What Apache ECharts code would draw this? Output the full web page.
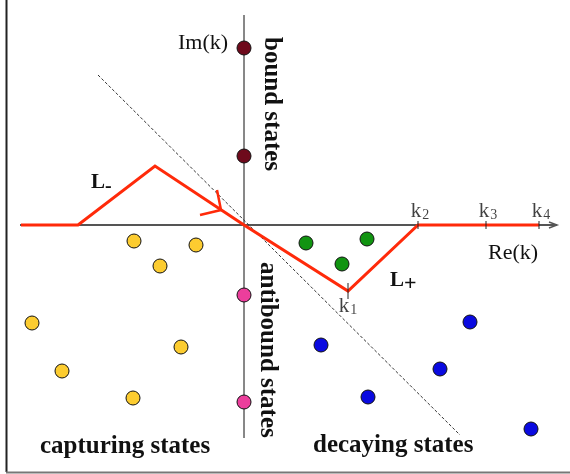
<!DOCTYPE html>
<html>
<head>
<meta charset="utf-8">
<script src="https://cdn.jsdelivr.net/npm/echarts@6/dist/echarts.min.js"></script>
<style>html,body{margin:0;padding:0;background:#fff}#c{width:570px;height:474px}</style>
</head>
<body>
<div id="c"></div>
<script>
// complex k-plane, units: Re(k), Im(k)
var boundStates = [[0, 17.7], [0, 6.9]];
var antiboundStates = [[0, -7.0], [0, -17.7]];
var capturingStates = [[-11.0, -1.6], [-4.8, -2.0], [-8.4, -4.1], [-21.2, -9.8], [-6.3, -12.2], [-18.2, -14.6], [-11.1, -17.3]];
var resonances = [[6.2, -1.8], [9.8, -3.9], [12.3, -1.4]];
var decayingStates = [[22.6, -9.7], [7.7, -12.0], [19.6, -14.4], [12.4, -17.2], [28.7, -20.4]];
var contourL = [[-22.3, 0], [-16.6, 0], [-8.9, 5.9], [0, 0], [10.4, -6.6], [17.4, 0], [29.5, 0]];
var arrowHead = [[-2.7, 3.5], [-2.3, 1.5], [-4.4, 1.0]];
var diagonal = [[-14.6, 15.0], [21.6, -21.0]];
var reAxis = [[-22.4, 0], [31.3, 0]];
var reAxisArrow = [[30.5, 0.3], [31.3, 0], [30.5, -0.3]];
var imAxis = [[0, 21.0], [0, -21.3]];
var kTickRe = [10.4, 17.4, 24.2, 29.5];
var kTickNames = ['1', '2', '3', '4'];
var xRange = [-24.4, 32.6];
var yRange = [-24.9, 22.5];

var chart = echarts.init(document.getElementById('c'), null, {renderer: 'canvas'});
var serif = '"Liberation Serif", "DejaVu Serif", serif';

function dot(name, data, color) {
  return {
    type: 'scatter', name: name, data: data, symbolSize: 14, z: 10,
    itemStyle: {color: color, borderColor: '#111', borderWidth: 1, opacity: 1}
  };
}
function segs(data, color, width, type, z) {
  return {
    type: 'line', data: data, symbol: 'none', silent: true, z: z || 3,
    lineStyle: {color: color, width: width, type: type || 'solid', cap: 'butt', join: 'miter'},
    animation: false
  };
}
function imOnContour(re) {
  var p = contourL.filter(function (q) { return Math.abs(q[0] - re) < 0.01; })[0];
  return p ? p[1] : 0;
}

var series = [];
series.push(segs(reAxis, '#555', 2, 'solid', 2));
series.push(segs(reAxisArrow, '#555', 1.5, 'solid', 2));
series.push(segs(imAxis, '#111', 1, 'solid', 2));
series.push(segs(diagonal, '#333', 1, [3, 2], 4));
series.push(segs(contourL, '#ff2a0a', 3, 'solid', 5));
series.push(segs(arrowHead, '#ff2a0a', 2.5, 'solid', 5));
kTickRe.forEach(function (re, i) {
  var im = imOnContour(re);
  var h = i === 0 ? 0.8 : 0.4;
  series.push(segs([[re, im + h], [re, im - h]], '#222', 1, 'solid', 6));
});
series.push({
  type: 'scatter', symbolSize: 0, silent: true, z: 12,
  data: kTickRe.map(function (re, i) {
    return {value: [re, imOnContour(re)], name: kTickNames[i],
      label: {position: i === 0 ? 'bottom' : 'top', distance: i === 0 ? 6 : 3, offset: i === 0 ? [0, 0] : [2, 0]}};
  }),
  label: {
    show: true, color: '#111', fontFamily: serif,
    formatter: function (p) { return '{k|k}{s|' + p.name + '}'; },
    rich: {
      k: {fontSize: 21, fontFamily: serif, color: '#111', lineHeight: 20, verticalAlign: 'bottom'},
      s: {fontSize: 14, fontFamily: serif, color: '#111', lineHeight: 13, padding: [9, 0, 0, 1], verticalAlign: 'bottom'}
    }
  }
});
series.push(dot('bound', boundStates, '#6e0a1c'));
series.push(dot('antibound', antiboundStates, '#ec3e9c'));
series.push(dot('capturing', capturingStates, '#fccc30'));
series.push(dot('resonances', resonances, '#119411'));
series.push(dot('decaying', decayingStates, '#0a0ae0'));

var bold = {fontFamily: serif, fontWeight: 'bold', fill: '#111', fontSize: 25};
chart.setOption({
  animation: false,
  grid: {left: 0, right: 0, top: 0, bottom: 0},
  xAxis: {type: 'value', min: xRange[0], max: xRange[1], show: false},
  yAxis: {type: 'value', min: yRange[0], max: yRange[1], show: false},
  series: series,
  graphic: [
    {type: 'line', shape: {x1: 6.5, y1: 0, x2: 6.5, y2: 472}, style: {stroke: '#222', lineWidth: 2}, z: 100},
    {type: 'line', shape: {x1: 6, y1: 472.5, x2: 570, y2: 472.5}, style: {stroke: '#777', lineWidth: 2}, z: 100},
    {type: 'text', left: 178, top: 32, style: {text: 'Im(k)', font: '22px ' + serif, fill: '#111'}},
    {type: 'text', left: 488, top: 242, style: {text: 'Re(k)', font: '22px ' + serif, fill: '#111'}},
    {type: 'text', x: 259, y: 37, rotation: -Math.PI / 2, style: Object.assign({text: 'bound states', textAlign: 'left', textVerticalAlign: 'bottom'}, bold)},
    {type: 'text', x: 255, y: 262, rotation: -Math.PI / 2, style: Object.assign({text: 'antibound states', textAlign: 'left', textVerticalAlign: 'bottom'}, bold)},
    {type: 'text', left: 40, top: 434, style: Object.assign({text: 'capturing states'}, bold)},
    {type: 'text', left: 313, top: 433, style: Object.assign({text: 'decaying states'}, bold)},
    {type: 'text', left: 91, top: 172, style: {text: '{L|L}{s|-}', rich: {L: {fontFamily: serif, fontWeight: 'bold', fontSize: 21, fill: '#111'}, s: {fontFamily: serif, fontWeight: 'bold', fontSize: 20, fill: '#111', padding: [8, 0, 0, 0]}}}},
    {type: 'text', left: 390, top: 270, style: {text: '{L|L}{s|+}', rich: {L: {fontFamily: serif, fontWeight: 'bold', fontSize: 21, fill: '#111'}, s: {fontFamily: serif, fontWeight: 'bold', fontSize: 22, fill: '#111', padding: [8, 0, 0, 0]}}}}
  ]
});
</script>
</body>
</html>
